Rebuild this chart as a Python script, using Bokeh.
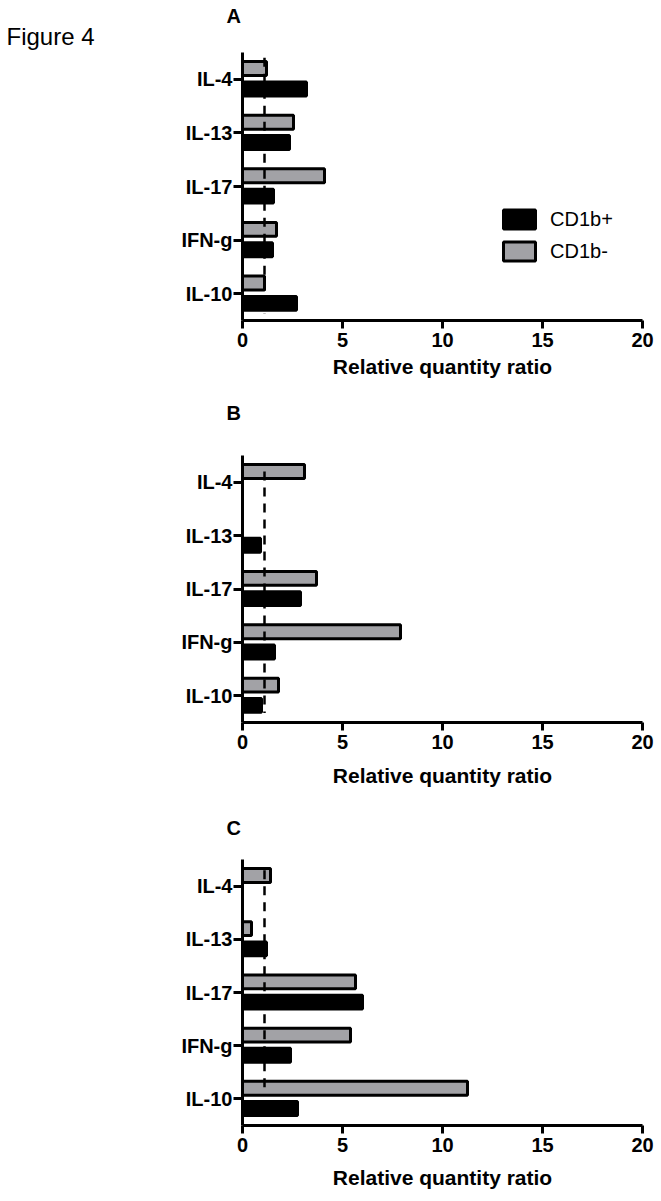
import numpy as np
from bokeh.plotting import figure
from bokeh.models import (FactorRange, Range1d, FixedTicker, Legend, LegendItem,
                          Title, ColumnDataSource)
from bokeh.transform import dodge
from bokeh.layouts import column
from bokeh.embed import file_html
from bokeh.resources import INLINE

# ---------------- data ----------------
cytokines = ["IL-4", "IL-13", "IL-17", "IFN-g", "IL-10"]
series_names = ["CD1b+", "CD1b-"]
a_cd1b_pos = [3.2, 2.35, 1.55, 1.5, 2.7]
a_cd1b_neg = [1.2, 2.55, 4.1, 1.7, 1.1]
b_cd1b_pos = [None, 0.9, 2.9, 1.6, 0.95]
b_cd1b_neg = [3.1, None, 3.7, 7.9, 1.8]
c_cd1b_pos = [None, 1.2, 6.0, 2.4, 2.75]
c_cd1b_neg = [1.4, 0.45, 5.65, 5.4, 11.25]
reference_ratio = 1.1
x_ticks = [0, 5, 10, 15, 20]
x_title = "Relative quantity ratio"
figure_title = "Figure 4"

FONT = "Liberation Sans"
GRAY = "#a2a2a6"


def to_arr(v):
    return np.array([np.nan if x is None else x for x in v], dtype=float)


def panel(pos, neg, letter, height, top, bottom, letter_standoff, title_standoff,
          dash_top, dash_bottom, spacer=0, legend=False, fig_label=False):
    p = figure(width=660, height=height,
               x_range=Range1d(0, 20),
               y_range=FactorRange(factors=cytokines[::-1]),
               output_backend="svg", toolbar_location=None,
               min_border_left=242, min_border_right=18,
               min_border_top=top, min_border_bottom=bottom)
    p.title = None
    p.outline_line_color = None
    p.xgrid.visible = False
    p.ygrid.visible = False
    p.background_fill_color = "white"
    p.border_fill_color = "white"

    src = ColumnDataSource(dict(cat=cytokines, pos=to_arr(pos), neg=to_arr(neg)))
    r_neg = p.hbar(y=dodge("cat", 0.2, range=p.y_range), left=0, right="neg",
                   height=0.26, source=src, fill_color=GRAY,
                   line_color="black", line_width=3)
    r_pos = p.hbar(y=dodge("cat", -0.18, range=p.y_range), left=0, right="pos",
                   height=0.26, source=src, fill_color="black",
                   line_color="black", line_width=3)

    dsrc = ColumnDataSource(dict(x=[reference_ratio], y0=[cytokines[0]], y1=[cytokines[-1]]))
    p.segment(x0="x", x1="x",
              y0=dodge("y0", dash_top, range=p.y_range),
              y1=dodge("y1", dash_bottom, range=p.y_range),
              source=dsrc, line_color="black", line_width=2.5, line_dash="9 7")

    # axes
    for ax in (p.xaxis[0], p.yaxis[0]):
        ax.axis_line_width = 3
        ax.axis_line_color = "black"
        ax.major_tick_line_width = 3
        ax.major_tick_line_color = "black"
        ax.major_tick_in = 0
        ax.minor_tick_line_color = None
        ax.major_label_text_font = FONT
        ax.major_label_text_font_style = "bold"
        ax.major_label_text_color = "black"
        ax.major_label_text_font_size = "20px"
    p.xaxis.ticker = FixedTicker(ticks=x_ticks, minor_ticks=[])
    p.xaxis.major_tick_out = 8
    p.xaxis.major_label_standoff = 4
    p.xaxis.axis_label = x_title
    p.xaxis.axis_label_text_font = FONT
    p.xaxis.axis_label_text_font_style = "bold"
    p.xaxis.axis_label_text_font_size = "21px"
    p.xaxis.axis_label_text_color = "black"
    p.xaxis.axis_label_standoff = title_standoff
    p.yaxis.major_tick_out = 9
    p.yaxis.major_label_standoff = 1

    if fig_label:
        p.add_layout(Title(text=figure_title, align="left", offset=-236, standoff=6,
                           text_font=FONT, text_font_style="normal",
                           text_font_size="24px", text_color="black"), "above")
    if spacer:
        p.add_layout(Title(text=" ", align="left", standoff=spacer,
                           text_font=FONT, text_font_size="1px"), "above")
    p.add_layout(Title(text=letter, align="left", offset=-16, standoff=letter_standoff,
                       text_font=FONT, text_font_style="bold",
                       text_font_size="20px", text_color="black"), "above")
    if legend:
        lg = Legend(items=[LegendItem(label=series_names[0], renderers=[r_pos]),
                           LegendItem(label=series_names[1], renderers=[r_neg])],
                    location=(257, 57), glyph_width=40, glyph_height=24,
                    label_height=24, spacing=8, padding=0, margin=0,
                    border_line_color=None, background_fill_alpha=0,
                    label_standoff=11, label_text_font=FONT,
                    label_text_font_size="20px", label_text_color="black")
        p.add_layout(lg)
    return p


pa = panel(a_cd1b_pos, a_cd1b_neg, "A", 384, 52, 64, -19, 5, 0.4, -0.38,
           legend=True, fig_label=True)
pb = panel(b_cd1b_pos, b_cd1b_neg, "B", 408, 71, 70, 0, 12, 0.2, -0.32, spacer=29)
pc = panel(c_cd1b_pos, c_cd1b_neg, "C", 403, 67, 70, 42, 11, 0.3, 0.1)

layout = column(pa, pb, pc)
open("out.html", "w").write(file_html(layout, INLINE))
